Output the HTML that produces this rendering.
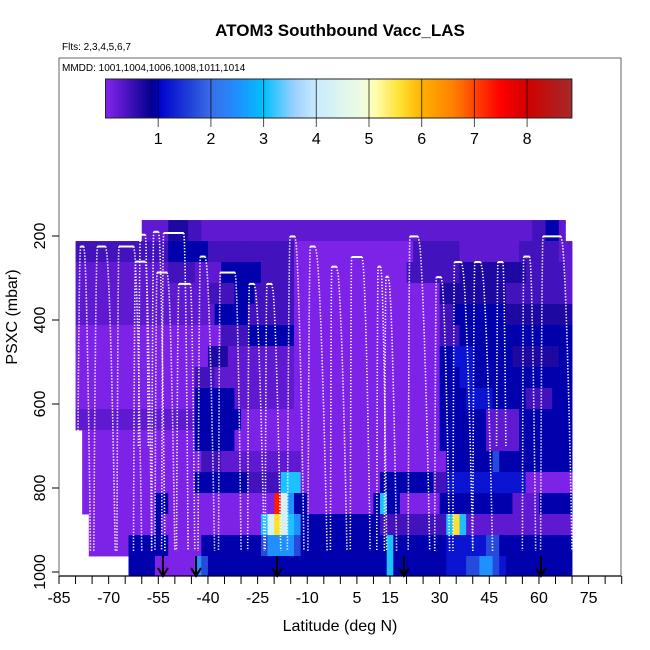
<!DOCTYPE html>
<html><head><meta charset="utf-8"><style>
html,body{margin:0;padding:0;background:#fff}
svg{display:block;font-family:"Liberation Sans",sans-serif}
</style></head><body>
<svg id="chart" width="650" height="650" viewBox="0 0 650 650" xmlns="http://www.w3.org/2000/svg">
<defs><clipPath id="plotclip"><rect x="59" y="58" width="562" height="518"/></clipPath>
<clipPath id="cbclip"><rect x="105.5" y="79" width="466.4" height="39"/></clipPath></defs>
<text x="340" y="36" text-anchor="middle" font-size="17" font-weight="bold">ATOM3 Southbound Vacc_LAS</text>
<text x="62" y="50" font-size="10">Flts: 2,3,4,5,6,7</text>
<rect x="59" y="58" width="562" height="518" fill="none" stroke="#666" stroke-width="1"/>
<text x="62" y="71" font-size="10">MMDD: 1001,1004,1006,1008,1011,1014</text>
<g id="heat" clip-path="url(#plotclip)"></g>
<g id="profiles" clip-path="url(#plotclip)"></g>
<g id="arrows"></g>
<g id="cbar"></g>
<g id="axes"></g>
<text x="340" y="631" text-anchor="middle" font-size="16">Latitude (deg N)</text>
<text transform="translate(17,317) rotate(-90)" text-anchor="middle" font-size="16">PSXC (mbar)</text>
</svg>
<script>
// ---- data ----
const latStart = -80;
const latStep = 2;
const presTops = [162,212,262,312,362,412,462,512,562,612,662,712,762,812,862,912,962];
const presStep = 50;
const levelValues = {a:0.05,b:0.25,c:0.45,d:0.7,e:0.95,f:1.2,g:1.7,h:2.5,i:3.1,j:4.3,k:5.6,l:7.3};
const rowRuns = [
 "10. 4b 3d 2c 50b 2c 2e 1b 1.",
 "14c 6e 13c 18a 7c 9b 6c 2b",
 "14b 4c 4b 6e 5c 17a 8c 10d 6c 1b",
 "20b 4c 3e 6c 22a 10d 9c 1b",
 "21b 5e 7c 22a 2c 8e 10d",
 "22a 4c 7e 22a 3c 17e",
 "20a 3d 10b 22a 2e 3f 6e 7d 2e",
 "18a 3c 12b 22a 3e 2f 15e",
 "18a 6e 9b 22a 4e 4f 5e 4c 3e",
 "18b 7e 30a 7e 5b 8e",
 "1. 17a 6e 31a 7e 5b 8e",
 "1. 18a 3c 12b 22a 7e 1g 11e",
 "1. 17a 8e 5c 3i 12a 8e 2c 12f 7a",
 "1. 11a 2e 16a 1l 1j 1h 2e 10a 1e 1i 2e 6a 11e 4b 5e",
 "2. 10a 1e 15a 1i 1j 1k 1j 1i 1h 12e 10c 1i 1k 1i 16b",
 "2. 6a 6e 5a 9e 1g 4h 1g 13e 1i 8e 6f 2g 11e",
 "8. 4e 6a 1h 1g 27e 1i 8e 3f 2g 2h 1g 1f 10e"
];
const profUpLat    = [-79.5,-74.5,-67.5,-62.5,-61,-57,-56,-54,-49.5,-43,-36.8,-28,-22.7,-16,-9.8,-3,3,11,13.3,20.5,28.5,34,40,47.2,55,60.5];
const profStartLat = [-78.5,-73.4,-66.9,-61.9,-60.4,-56.4,-55.4,-53.4,-48.8,-42.3,-36.3,-27.5,-22.2,-15.2,-9.1,-2.6,3.4,11.4,13.8,21,29,34.5,40.6,47.6,55.4,61.2];
const profEndLat   = [-77.5,-70.9,-62.4,-58.9,-58.9,-54.9,-52.3,-47.3,-45.3,-40.8,-31.8,-26,-20.7,-13.7,-7.6,-1.1,6.6,12.2,14.5,23.5,30.5,36.6,42.4,49.1,57.2,66.7];
const profDownLat  = [-75.5,-68,-60,-57,-58,-53,-50,-46,-44,-38,-30,-23,-18,-11,-4,2,9,14,17,27,33,40,46,50,59,70];
const profTopP     = [225,225,225,261,197,190,287,193,314,249,287,314,314,201,225,273,250,273,297,201,298,262,262,262,249,201];
const profBottomP  = [950,950,950,950,700,950,950,950,950,950,950,950,950,950,950,950,950,950,950,950,950,950,950,700,950,950];
const arrowLats = [-53.6,-43.6,-19.1,19.2,60.6];
const xTicks = [-85,-70,-55,-40,-25,-10,5,15,30,45,60,75];
const yTicks = [200,400,600,800,1000];
const cbTicks = [1,2,3,4,5,6,7,8];
// ---- scales ----
const X = lat => 59 + (lat + 85) * 3.31;
const Y = p => 152 + p * 0.42;
const CB = v => 105.5 + v * 52.7;
const stops = [[0,"#8424ec"],[0.9,"#00008b"],[1.0,"#0000cd"],[1.6,"#2040d8"],[2,"#3a6ee6"],[2.5,"#1e90ff"],[3,"#00bfff"],[3.6,"#a0d0ff"],[4,"#c8ecff"],[4.9,"#f0fce0"],[5.1,"#ffffb0"],[5.6,"#ffe030"],[6,"#ffb000"],[6.6,"#ff8000"],[7,"#ff4500"],[7.5,"#ff0000"],[8,"#d00000"],[8.85,"#a52a2a"]];
function hex(h){return [1,3,5].map(i=>parseInt(h.substr(i,2),16));}
function color(v){
  if(v<=stops[0][0])return stops[0][1];
  for(let i=1;i<stops.length;i++){
    if(v<=stops[i][0]){const a=stops[i-1],b=stops[i],t=(v-a[0])/(b[0]-a[0]);
      const c1=hex(a[1]),c2=hex(b[1]);return "rgb("+c1.map((c,k)=>Math.round(c+(c2[k]-c)*t)).join(",")+")";}
  }
  return stops[stops.length-1][1];
}
const NS="http://www.w3.org/2000/svg";
function mk(tag,attrs,parent){const e=document.createElementNS(NS,tag);for(const k in attrs)e.setAttribute(k,attrs[k]);parent.appendChild(e);return e;}
const heat=document.getElementById("heat");
rowRuns.forEach((runs,r)=>{
  let col=0;
  runs.split(" ").forEach(tok=>{
    const n=parseInt(tok),code=tok.replace(/[0-9]/g,"");
    for(let k=0;k<n;k++){
      if(code!=="."){
        const lat=latStart+latStep*col;
        const x0=X(lat),x1=X(lat+latStep),y0=Y(presTops[r]),y1=Y(presTops[r]+presStep);
        const el=mk("rect",{x:x0,y:y0,width:x1-x0+0.4,height:y1-y0+0.4,fill:color(levelValues[code])},heat);
        
        
      }
      col++;
    }
  });
});
const prof=document.getElementById("profiles");
function leg(lat0,lat1,pTop,pBot){
  let d="";
  for(let s=0;s<=40;s++){const t=s/40;const p=pTop+t*(pBot-pTop);const lat=lat0+(lat1-lat0)*Math.pow(t,0.55);
    d+=(s?"L":"M")+X(lat).toFixed(1)+" "+Y(p).toFixed(1);}
  return d;
}
for(let i=0;i<profStartLat.length;i++){
  const g=mk("g",{},prof);
  
  
  mk("path",{d:leg(profStartLat[i],profUpLat[i],profTopP[i],profBottomP[i]),stroke:"#fff",fill:"none","stroke-width":1.6,"stroke-dasharray":"1.3 1.7"},g);
  mk("path",{d:leg(profEndLat[i],profDownLat[i],profTopP[i],profBottomP[i]),stroke:"#fff",fill:"none","stroke-width":1.6,"stroke-dasharray":"1.3 1.7"},g);
  mk("line",{x1:X(profStartLat[i]),x2:X(profEndLat[i]),y1:Y(profTopP[i]),y2:Y(profTopP[i]),stroke:"#fff","stroke-width":2},g);
}
const arr=document.getElementById("arrows");
arrowLats.forEach(l=>{
  const x=X(l);
  const g=mk("g",{},arr);
  
  
  mk("line",{x1:x,x2:x,y1:556,y2:575,stroke:"#000","stroke-width":2},g);
  mk("path",{d:`M${x-5} ${568}L${x} ${576}L${x+5} ${568}`,stroke:"#000","stroke-width":2,fill:"none"},g);
});
const cb=document.getElementById("cbar");
const cbInner=mk("g",{"clip-path":"url(#cbclip)"},cb);
for(let v=0;v<8.85;v+=0.05){
  const r=mk("rect",{x:CB(v),y:79,width:52.7*0.05+0.4,height:39,fill:color(v+0.025)},cbInner);
  
  
}
mk("rect",{x:CB(0),y:79,width:CB(8.85)-CB(0),height:39,fill:"none",stroke:"#222","stroke-width":1},cb);
cbTicks.forEach(v=>{
  const x=CB(v);
  mk("line",{x1:x,x2:x,y1:79,y2:127,stroke:"#000","stroke-opacity":0.7,"stroke-width":1},cb);
  const t=mk("text",{x:x,y:144,"text-anchor":"middle","font-size":16},cb);
  t.textContent=v;
  
  
});
const ax=document.getElementById("axes");
mk("line",{x1:59,x2:621,y1:576,y2:576,stroke:"#000","stroke-width":1.2},ax);
for(let l=-85;l<=85;l+=5){mk("line",{x1:X(l),x2:X(l),y1:576,y2:584,stroke:"#000","stroke-width":1},ax);}
xTicks.forEach(l=>{
  const t=mk("text",{x:X(l),y:603,"text-anchor":"middle","font-size":16},ax);
  t.textContent=l;
  
  
});
mk("line",{x1:59,x2:59,y1:58,y2:576,stroke:"#666","stroke-width":1},ax);
yTicks.forEach(p=>{
  mk("line",{x1:52,x2:59,y1:Y(p),y2:Y(p),stroke:"#000","stroke-width":1},ax);
  const t=mk("text",{transform:`translate(45,${Y(p)}) rotate(-90)`,"text-anchor":"middle","font-size":16},ax);
  t.textContent=p;
  
  
});
</script>
</body></html>
